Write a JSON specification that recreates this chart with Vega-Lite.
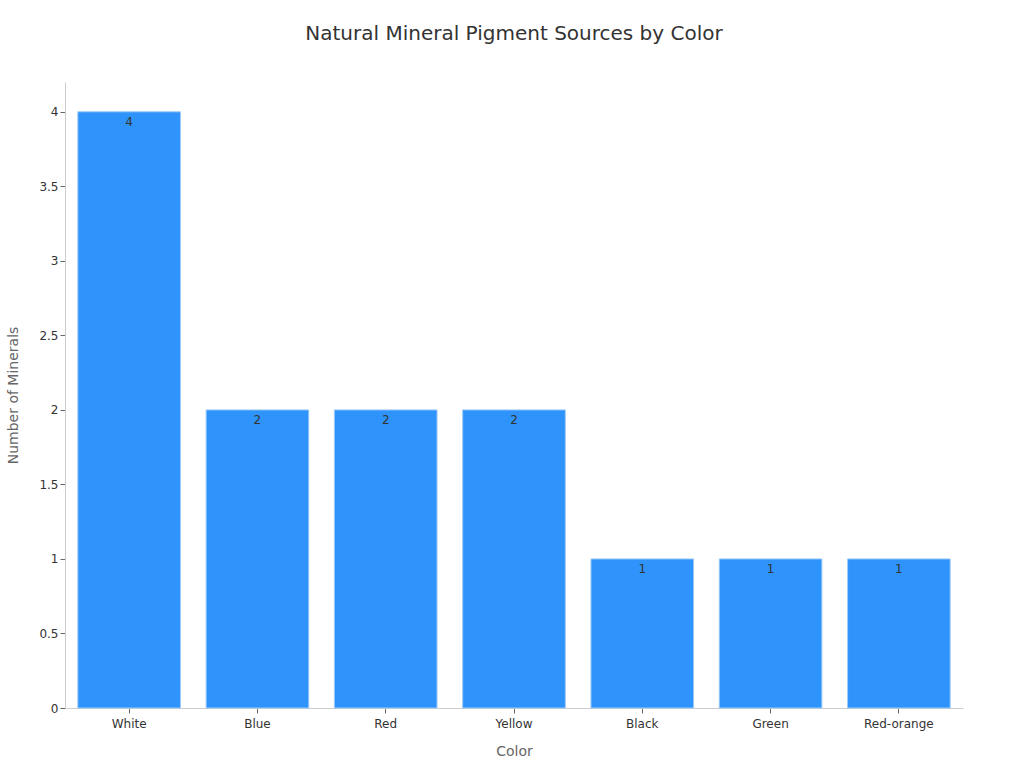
{
  "$schema": "https://vega.github.io/schema/vega-lite/v6.json",
  "autosize": {"type": "none"},
  "padding": {"left": 65, "top": 82, "right": 61, "bottom": 60},
  "width": 898,
  "height": 626,
  "title": {
    "text": "Natural Mineral Pigment Sources by Color",
    "fontSize": 20,
    "fontWeight": "normal",
    "color": "#333333",
    "font": "DejaVu Sans",
    "offset": 38
  },
  "data": {
    "values": [
      {"Color": "White", "Minerals": 4},
      {"Color": "Blue", "Minerals": 2},
      {"Color": "Red", "Minerals": 2},
      {"Color": "Yellow", "Minerals": 2},
      {"Color": "Black", "Minerals": 1},
      {"Color": "Green", "Minerals": 1},
      {"Color": "Red-orange", "Minerals": 1}
    ]
  },
  "encoding": {
    "x": {
      "field": "Color",
      "type": "nominal",
      "sort": null,
      "title": "Color",
      "scale": {"paddingInner": 0.2, "paddingOuter": 0.1},
      "axis": {"labelAngle": 0, "labelPadding": 5, "titlePadding": 15}
    },
    "y": {
      "field": "Minerals",
      "type": "quantitative",
      "title": "Number of Minerals",
      "scale": {"domain": [0, 4.2], "nice": false},
      "axis": {"values": [0, 0.5, 1, 1.5, 2, 2.5, 3, 3.5, 4], "format": "~g", "grid": false, "titlePadding": 18}
    }
  },
  "layer": [
    {
      "mark": {"type": "bar", "color": "#2E93FA", "stroke": "#9cc9f7", "strokeWidth": 1}
    },
    {
      "mark": {"type": "text", "baseline": "top", "dy": 5, "fontSize": 12, "color": "#333333", "font": "DejaVu Sans"},
      "encoding": {"text": {"field": "Minerals", "type": "quantitative"}}
    }
  ],
  "config": {
    "view": {"stroke": null},
    "font": "DejaVu Sans",
    "axis": {
      "domainColor": "#cccccc",
      "tickColor": "#666666",
      "tickSize": 5,
      "labelColor": "#333333",
      "labelFontSize": 12,
      "titleColor": "#666666",
      "titleFontSize": 14,
      "titleFontWeight": "normal"
    }
  }
}
